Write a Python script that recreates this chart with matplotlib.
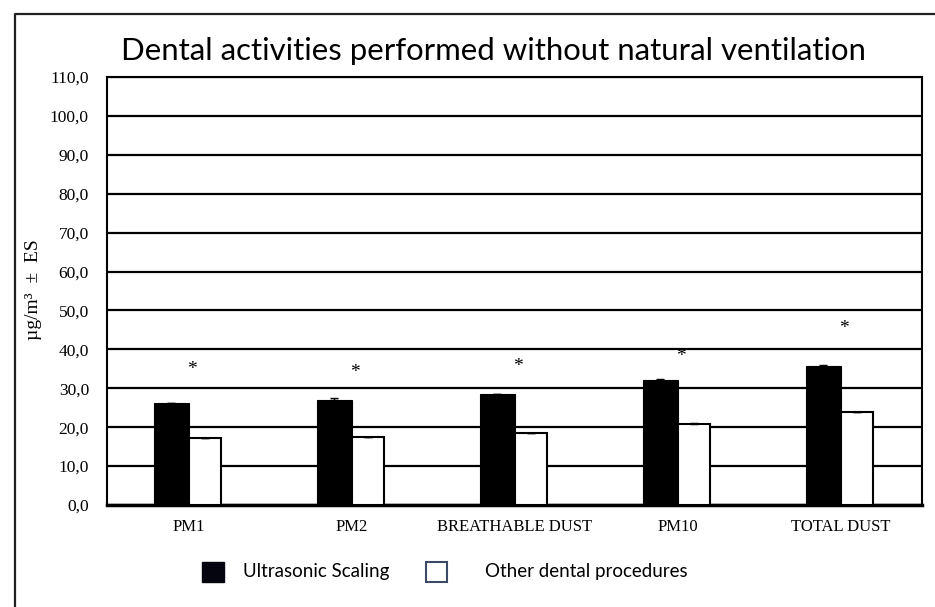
import matplotlib
matplotlib.use('Agg')
import matplotlib.pyplot as plt
from matplotlib.patches import Rectangle
from matplotlib.lines import Line2D
import numpy as np

# ── Daten ────────────────────────────────────────────────────────────────────
categories = ['PM1', 'PM2', 'BREATHABLE DUST', 'PM10', 'TOTAL DUST']
ultrasonic = [26.1, 27.1, 28.4, 32.0, 35.6]
ultrasonic_err = [0.2, 0.3, 0.2, 0.3, 0.4]
other = [17.1, 17.4, 18.4, 20.9, 23.8]
other_err = [0.1, 0.1, 0.1, 0.3, 0.2]
star_heights = [34.9, 34.0, 35.7, 38.1, 45.4]
y_ticks = np.arange(0, 111, 10)
y_ticklabels = [f"{v:.1f}".replace('.', ',') for v in y_ticks]

title = 'Dental activities performed without natural ventilation'
legend_labels = ['Ultrasonic Scaling', 'Other dental procedures']

# ── Stil ─────────────────────────────────────────────────────────────────────
W, H = 935, 607
_SERIF = 'Liberation Serif'
_SANS = 'Lato'
_LW_GRID = 1.6

fig = plt.figure(figsize=(W / 100, H / 100), dpi=100)
fig.patch.set_facecolor('white')

# Achsen in Pixelkoordinaten des Originals
left, right, top, bottom = 107, 922, 77, 505
ax = fig.add_axes([left / W, 1 - bottom / H, (right - left) / W, (bottom - top) / H])

x = np.arange(len(categories))

ax.bar(x - 0.21, ultrasonic, width=0.21, align='edge', color='black',
       edgecolor='black', linewidth=0.8, zorder=3)
ax.bar(x, other, width=0.2, align='edge', color='white',
       edgecolor='black', linewidth=1.5, zorder=3)
ax.errorbar(x - 0.105, ultrasonic, yerr=[[0] * len(x), ultrasonic_err],
            fmt='none', ecolor='black', elinewidth=1, capsize=3, zorder=4)
ax.errorbar(x + 0.1, other, yerr=[[0] * len(x), other_err],
            fmt='none', ecolor='black', elinewidth=1, capsize=3, zorder=4)

# Signifikanz-Sterne
for xi, h in zip(x, star_heights):
    ax.text(xi + 0.02, h, '*', ha='center', va='center',
            fontsize=14, fontfamily=_SERIF, color='black', zorder=5)

ax.set_xlim(-0.5, len(categories) - 0.5)
ax.set_ylim(0, 110)
ax.set_yticks(y_ticks)
ax.set_yticklabels(y_ticklabels, fontfamily=_SERIF, fontsize=12.5)
ax.set_xticks(x)
ax.set_xticklabels(categories, fontfamily=_SERIF, fontsize=12)
ax.tick_params(axis='y', length=0, pad=13)
ax.tick_params(axis='x', length=0, pad=10)

ax.yaxis.grid(True, color='black', linewidth=_LW_GRID, zorder=1)
ax.set_axisbelow(True)
for name, spine in ax.spines.items():
    spine.set_color('black')
    spine.set_linewidth(1.5)
ax.spines['bottom'].set_linewidth(2.5)

# Titel
fig.text(493 / W, 1 - 51 / H, title, ha='center', va='center',
         fontsize=22.4, fontfamily=_SANS, color='black')

# Y-Achsentitel
fig.text(34 / W, 1 - 290 / H, 'µg/m³  ±  ES', rotation=90,
         ha='center', va='center', fontsize=14, fontfamily=_SERIF)

# Legende (manuell)
fig.add_artist(Rectangle((202 / W, 1 - 582 / H), 22 / W, 20 / H,
                         transform=fig.transFigure, facecolor='#05050f',
                         edgecolor='#05050f'))
fig.text(243 / W, 1 - 572 / H, legend_labels[0], ha='left', va='center',
         fontsize=13.5, fontfamily=_SANS)
fig.add_artist(Rectangle((426 / W, 1 - 582 / H), 21 / W, 20 / H,
                         transform=fig.transFigure, facecolor='white',
                         edgecolor='#3c4a66', linewidth=1.5))
fig.text(485 / W, 1 - 572 / H, legend_labels[1], ha='left', va='center',
         fontsize=13.5, fontfamily=_SANS)

# Äusserer Rahmen (links und oben)
fig.add_artist(Line2D([15 / W, 15 / W, 1.0], [0.0, 1 - 14 / H, 1 - 14 / H],
                      transform=fig.transFigure, color='#222222', linewidth=1.6))

fig.savefig('out.png', dpi=100, facecolor='white')
